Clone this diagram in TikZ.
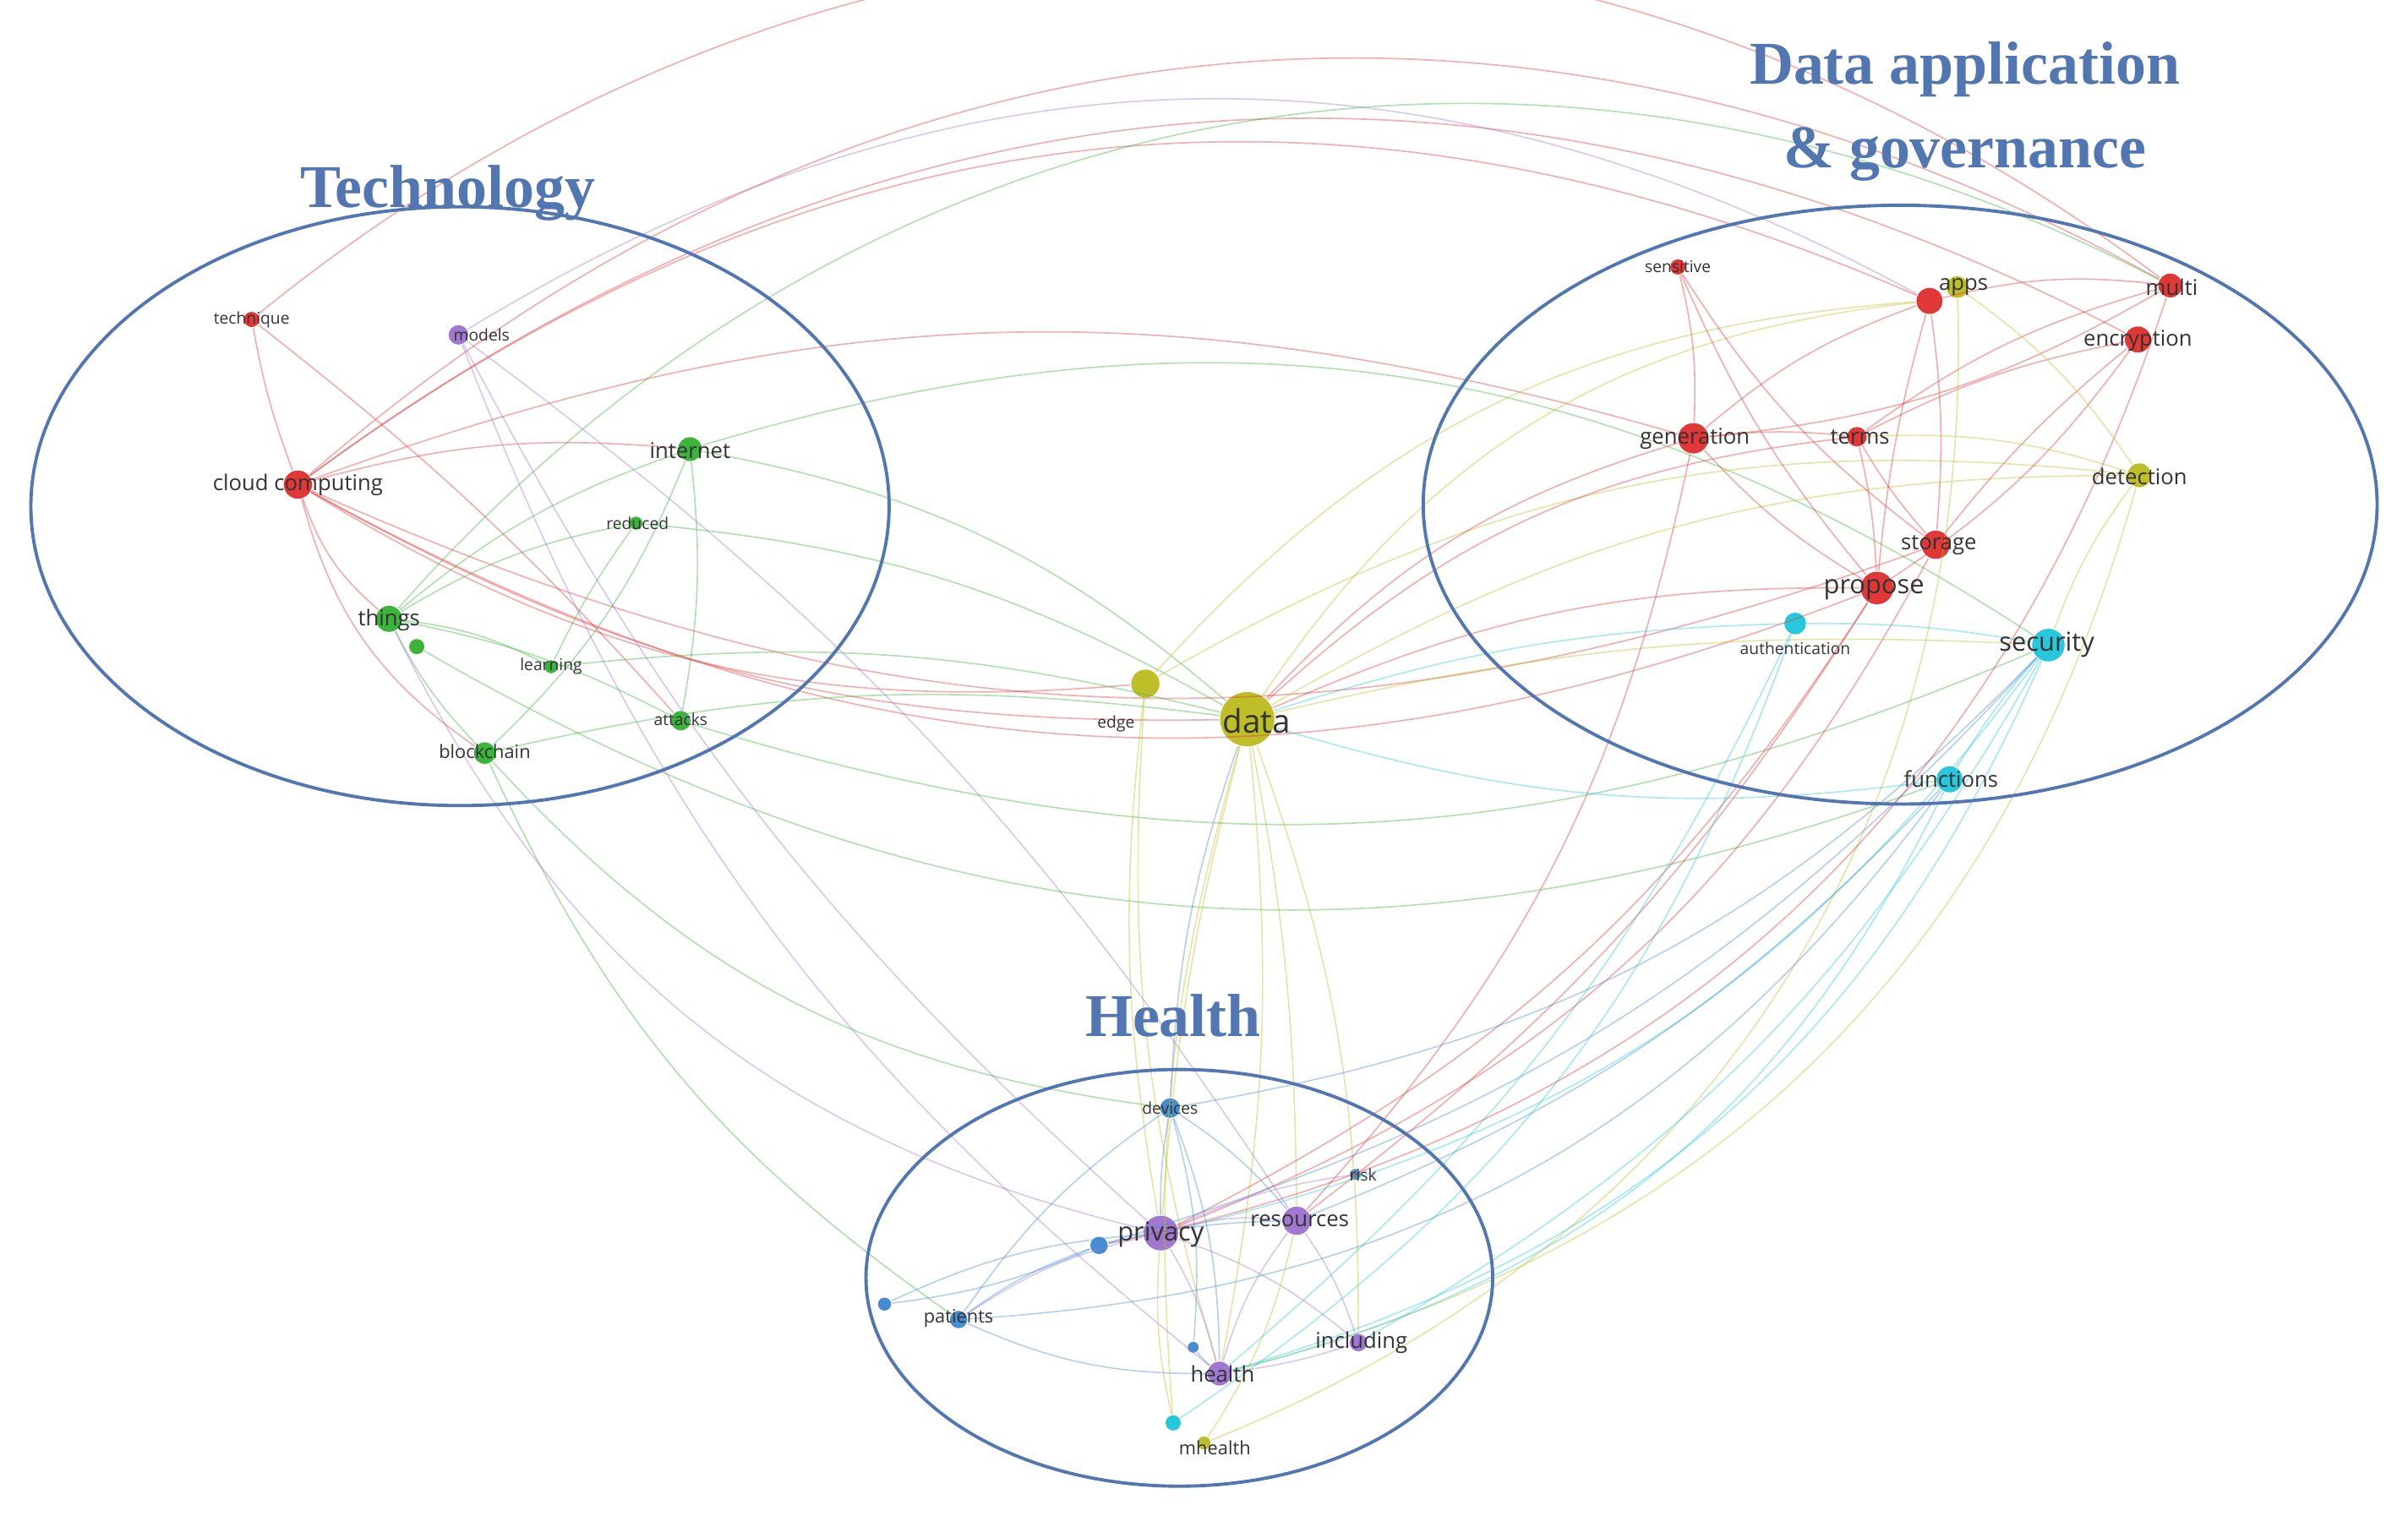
\documentclass[tikz,border=0pt]{standalone}
\usepackage{fontspec}
\setmainfont{Open Sans}
\newfontfamily\ttl{Liberation Serif}
\begin{document}
\begin{tikzpicture}[x=0.01cm,y=-0.01cm,
 dot/.style={circle,inner sep=0pt,minimum size={#1*0.2pt}},
 lab/.style={font=\fontsize{4}{5}\selectfont,text=black!80,inner sep=0.2pt},
 slab/.style={font=\fontsize{3}{4}\selectfont,text=black!80,inner sep=0.2pt},
 e/.style={draw=#1,line width=0.26pt,opacity=0.4},
 grp/.style={draw=tblue,line width=0.6pt},
 title/.style={font=\ttl\bfseries\fontsize{11.2}{12}\selectfont,text=tblue}]
\useasboundingbox (0,0) rectangle (1560,982);
\definecolor{tblue}{RGB}{82,118,178}
\definecolor{cr}{RGB}{225,55,55}\definecolor{cg}{RGB}{60,180,60}\definecolor{cy}{RGB}{190,190,40}
\definecolor{cp}{RGB}{160,120,210}\definecolor{cc}{RGB}{40,200,220}\definecolor{cb}{RGB}{70,140,210}
% nodes
\node[dot=14,fill=cr] (technique) at (163,207) {};
\node[dot=18,fill=cp] (models) at (297,217) {};
\node[dot=26,fill=cr] (cloud) at (193,314) {};
\node[dot=22,fill=cg] (internet) at (447,291) {};
\node[dot=12,fill=cg] (reduced) at (412,339) {};
\node[dot=24,fill=cg] (things) at (252,401) {};
\node[dot=14,fill=cg] (g2) at (270,419) {};
\node[dot=12,fill=cg] (learning) at (357,432) {};
\node[dot=18,fill=cg] (attacks) at (441,467) {};
\node[dot=20,fill=cg] (blockchain) at (314,488) {};
\node[dot=26,fill=cy] (edge) at (742,443) {};
\node[dot=50,fill=cy] (data) at (808,466) {};
\node[dot=14,fill=cr] (sensitive) at (1087,173) {};
\node[dot=24,fill=cr] (apps) at (1250,195) {};
\node[dot=20,fill=cy] (appsy) at (1268,186) {};
\node[dot=22,fill=cr] (multi) at (1406,185) {};
\node[dot=24,fill=cr] (encryption) at (1385,220) {};
\node[dot=28,fill=cr] (generation) at (1097,284) {};
\node[dot=18,fill=cr] (terms) at (1203,283) {};
\node[dot=22,fill=cy] (detection) at (1386,308) {};
\node[dot=26,fill=cr] (storage) at (1254,353) {};
\node[dot=30,fill=cr] (propose) at (1216,381) {};
\node[dot=20,fill=cc] (auth) at (1163,404) {};
\node[dot=30,fill=cc] (security) at (1327,418) {};
\node[dot=24,fill=cc] (functions) at (1263,505) {};
\node[dot=18,fill=cb] (devices) at (758,718) {};
\node[dot=10,fill=cb] (risk) at (878,761) {};
\node[dot=26,fill=cp] (resources) at (840,791) {};
\node[dot=32,fill=cp] (privacy) at (752,799) {};
\node[dot=16,fill=cb] (b1) at (712,807) {};
\node[dot=16,fill=cb] (patients) at (621,855) {};
\node[dot=12,fill=cb] (b2) at (573,845) {};
\node[dot=10,fill=cb] (b3) at (773,873) {};
\node[dot=22,fill=cp] (health) at (790,890) {};
\node[dot=16,fill=cp] (including) at (880,870) {};
\node[dot=14,fill=cc] (mhealth) at (760,922) {};
\node[dot=12,fill=cy] (mhy) at (780,935) {};
% edges
\foreach \pa/\pb/\pc/\pk in {
cloud/multi/cr/-35, cloud/encryption/cr/-32, cloud/apps/cr/-30, cloud/data/cr/15, cloud/edge/cr/18,
cloud/propose/cr/25, cloud/storage/cr/22, cloud/generation/cr/-18, technique/cloud/cr/5, technique/attacks/cr/-5,
technique/multi/cr/-38, cloud/internet/cr/-10, cloud/things/cr/15, cloud/blockchain/cr/20, models/apps/cp/-30,
models/privacy/cp/10, models/health/cp/15, models/resources/cp/-10, internet/data/cg/-15, internet/security/cg/-25,
internet/things/cg/10, internet/blockchain/cg/-12, internet/attacks/cg/-8, reduced/things/cg/10, reduced/learning/cg/5,
reduced/data/cg/-12, things/blockchain/cg/8, things/learning/cg/-10, things/attacks/cg/-8, blockchain/patients/cg/15,
blockchain/devices/cg/20, blockchain/data/cg/-10, attacks/security/cg/20, g2/functions/cg/25, learning/data/cg/-10,
things/privacy/cp/25, things/multi/cg/-38, edge/apps/cy/-22, edge/detection/cy/-18, edge/privacy/cy/8, edge/health/cy/10,
data/apps/cy/-25, data/detection/cy/-15, data/generation/cr/-15, data/terms/cr/-18, data/propose/cr/-12, data/security/cy/-8,
data/functions/cc/12, data/privacy/cy/5, data/health/cy/-8, data/mhealth/cy/10, data/resources/cy/-5, data/devices/cb/8,
data/including/cy/-10, data/auth/cc/-8, sensitive/propose/cr/8, sensitive/generation/cr/-8, sensitive/storage/cr/10,
apps/generation/cr/10, apps/storage/cr/-6, apps/multi/cr/-10, apps/propose/cr/5, multi/terms/cr/10, multi/generation/cr/-12,
encryption/propose/cr/-10, encryption/storage/cr/6, encryption/terms/cr/8, generation/terms/cr/-6, generation/propose/cr/8,
generation/resources/cr/-15, terms/storage/cr/5, terms/propose/cr/-5, detection/security/cy/8, detection/terms/cy/10,
appsy/detection/cy/-10, appsy/mhy/cy/-35, detection/health/cy/-30, storage/privacy/cr/-20, propose/privacy/cr/-15,
propose/resources/cr/-10, auth/mhealth/cc/-18, auth/health/cc/-12, security/health/cc/-25, security/privacy/cc/-20,
security/including/cc/-15, security/auth/cc/5, functions/health/cc/-25, functions/security/cc/-5, functions/resources/cb/-12,
functions/patients/cb/-25, security/devices/cb/-18, security/b1/cb/-15, multi/b1/cr/-30,
devices/privacy/cb/5, devices/resources/cb/-8, devices/patients/cb/10, devices/health/cb/-10, privacy/resources/cp/-10,
privacy/health/cp/-8, privacy/patients/cp/10, privacy/including/cp/-10, resources/health/cp/10, resources/including/cp/-8,
risk/privacy/cp/8, b1/patients/cb/8, b1/b2/cb/-8, b2/privacy/cb/-10, b3/health/cb/5, mhealth/privacy/cy/-8, mhy/resources/cy/10,
patients/health/cb/12, including/health/cp/-5, b1/resources/cb/-6, b3/devices/cb/10}
{\draw[e=\pc] (\pa) to[bend right=\pk] (\pb);}
% labels
\node[slab] at (163,207) {technique};
\node[slab] at (312,217) {models};
\node[lab] at (193,314) {cloud computing};
\node[lab] at (447,292) {internet};
\node[slab] at (413,339) {reduced};
\node[lab] at (252,402) {things};
\node[slab] at (357,432) {learning};
\node[slab] at (441,466) {attacks};
\node[slab,font=\fontsize{3.4}{4}\selectfont] at (314,487) {blockchain};
\node[slab] at (723,469) {edge};
\node[lab,font=\fontsize{6}{7}\selectfont] at (814,467) {data};
\node[slab] at (1087,173) {sensitive};
\node[lab] at (1272,186) {apps};
\node[lab] at (1407,186) {multi};
\node[lab] at (1385,221) {encryption};
\node[lab] at (1098,284) {generation};
\node[lab] at (1205,283) {terms};
\node[lab] at (1386,309) {detection};
\node[lab] at (1256,353) {storage};
\node[lab,font=\fontsize{4.8}{5.5}\selectfont] at (1214,382) {propose};
\node[slab] at (1163,420) {authentication};
\node[lab,font=\fontsize{4.8}{5.5}\selectfont] at (1326,418) {security};
\node[lab] at (1264,505) {functions};
\node[slab] at (758,718) {devices};
\node[slab] at (883,761) {risk};
\node[lab] at (842,791) {resources};
\node[lab,font=\fontsize{4.8}{5.5}\selectfont] at (752,800) {privacy};
\node[slab,font=\fontsize{3.4}{4}\selectfont] at (621,854) {patients};
\node[lab] at (792,890) {health};
\node[lab] at (882,870) {including};
\node[slab,font=\fontsize{3.4}{4}\selectfont] at (787,938) {mhealth};
% groups
\draw[grp] (298,328) ellipse [x radius=278, y radius=194];
\draw[grp] (1231,327) ellipse [x radius=309, y radius=194];
\draw[grp] (764,828) ellipse [x radius=203, y radius=135];
\node[title] at (290,125) {Technology};
\node[title] at (1273,45) {Data application};
\node[title] at (1273,100) {\& governance};
\node[title] at (760,658) {Health};
\end{tikzpicture}
\end{document}
